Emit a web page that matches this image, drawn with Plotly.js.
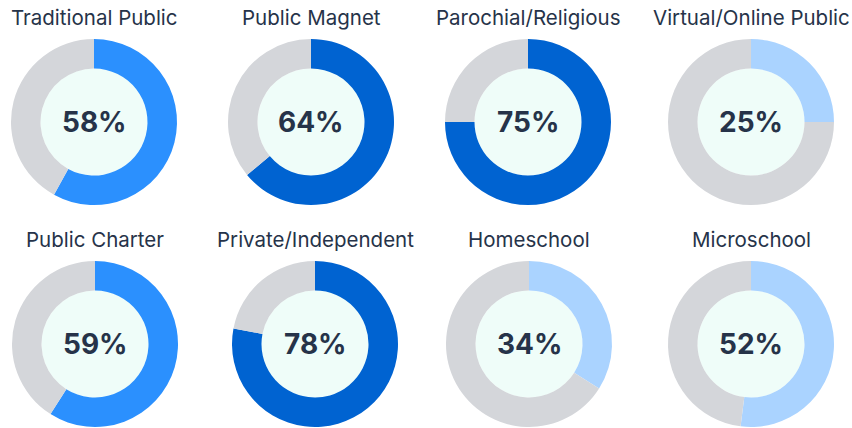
<!DOCTYPE html>
<html>
<head>
<meta charset="utf-8">
<script src="https://cdn.plot.ly/plotly-3.0.1.min.js"></script>
<style>html,body{margin:0;padding:0;background:#fff;}#chart{width:852px;height:428px;}</style>
</head>
<body>
<div id="chart"></div>
<script>
// Data
const categories = ['Traditional Public', 'Public Magnet', 'Parochial/Religious', 'Virtual/Online Public',
                    'Public Charter', 'Private/Independent', 'Homeschool', 'Microschool'];
const percents = [58, 64, 75, 25, 59, 78, 34, 52];
const sliceColors = ['#2b90fe', '#0063d1', '#0063d1', '#aad3ff', '#2b90fe', '#0063d1', '#aad3ff', '#aad3ff'];

// Layout (pixels)
const W = 852, H = 428;
const colCentersRow1 = [94, 311, 528, 751];
const colCentersRow2 = [95, 315, 529, 751];
const rowCenters = [122, 344];
const titleY = [17, 240];
const R = 83, holeR = 53.5;
const GRAY = '#d4d6da', MINT = '#effdf9', TEXT = '#263349';
const FONT = 'Inter, Lato, sans-serif';

const traces = [], shapes = [], annotations = [];
categories.forEach((cat, i) => {
  const row = Math.floor(i / 4), col = i % 4;
  const cx = (row === 0 ? colCentersRow1 : colCentersRow2)[col];
  const cy = rowCenters[row];
  traces.push({
    type: 'pie',
    values: [percents[i], 100 - percents[i]],
    labels: [cat, 'Other'],
    marker: {colors: [sliceColors[i], GRAY], line: {width: 0}},
    hole: holeR / R,
    sort: false,
    direction: 'clockwise',
    rotation: 0,
    textinfo: 'none',
    hoverinfo: 'label+percent',
    showlegend: false,
    domain: {x: [(cx - R) / W, (cx + R) / W], y: [1 - (cy + R) / H, 1 - (cy - R) / H]}
  });
  shapes.push({
    type: 'circle', xref: 'paper', yref: 'paper', layer: 'below',
    x0: (cx - holeR) / W, x1: (cx + holeR) / W,
    y0: 1 - (cy + holeR) / H, y1: 1 - (cy - holeR) / H,
    fillcolor: MINT, line: {width: 0}
  });
  annotations.push({
    xref: 'paper', yref: 'paper', x: cx / W, y: 1 - cy / H,
    xanchor: 'center', yanchor: 'middle', showarrow: false,
    text: '<b>' + percents[i] + '%</b>',
    font: {family: FONT, size: 28, color: TEXT}
  });
  annotations.push({
    xref: 'paper', yref: 'paper', x: cx / W, y: 1 - titleY[row] / H,
    xanchor: 'center', yanchor: 'middle', showarrow: false,
    text: cat,
    font: {family: FONT, size: 20.5, color: TEXT}
  });
});

Plotly.newPlot('chart', traces, {
  width: W, height: H,
  margin: {l: 0, r: 0, t: 0, b: 0},
  paper_bgcolor: '#ffffff',
  shapes: shapes,
  annotations: annotations
}, {displayModeBar: false, staticPlot: true});
</script>
</body>
</html>
